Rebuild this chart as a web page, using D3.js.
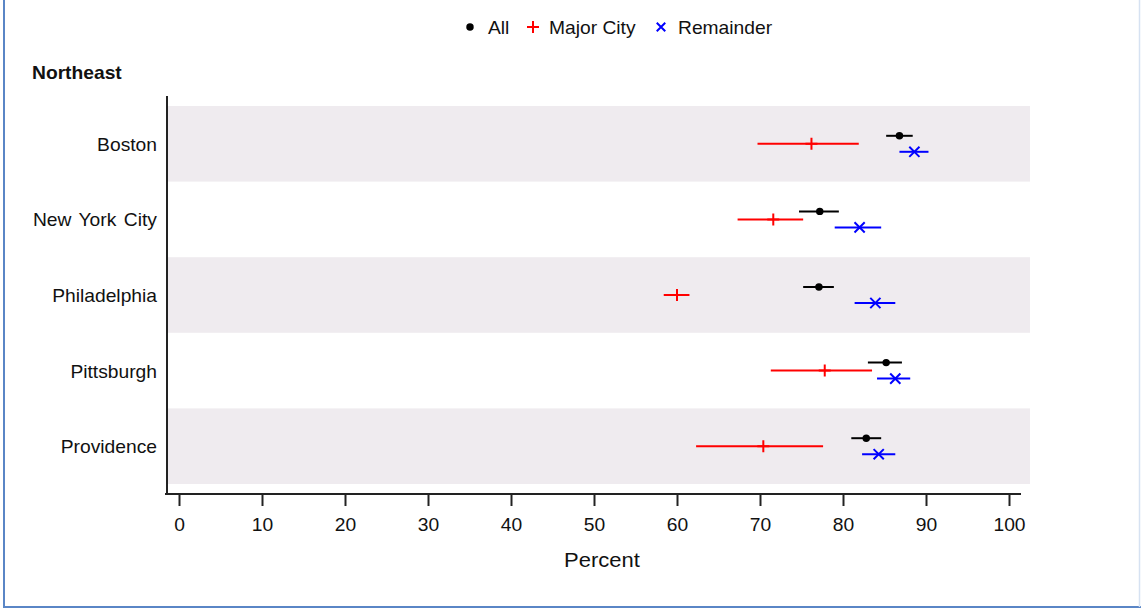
<!DOCTYPE html>
<html>
<head>
<meta charset="utf-8">
<script src="https://cdn.jsdelivr.net/npm/d3@7"></script>
<style>
  html, body { margin: 0; padding: 0; background: #fff; }
  svg { display: block; }
  text { font-family: "Liberation Sans", Arial, sans-serif; fill: #111; }
</style>
</head>
<body>
<svg id="chart" width="1141" height="609"></svg>
<script>
// Region heading and city rows
const region = "Northeast";
const cities = ["Boston", "New York City", "Philadelphia", "Pittsburgh", "Providence"];

// Estimates (percent) with lower / upper confidence bounds
const allEst   = [86.8, 77.2, 77.1, 85.2, 82.8];
const allLo    = [85.2, 74.7, 75.2, 83.0, 81.0];
const allHi    = [88.4, 79.5, 78.9, 87.1, 84.6];

const majorEst = [76.2, 71.6, 60.0, 77.8, 70.4];
const majorLo  = [69.7, 67.3, 58.4, 71.3, 62.3];
const majorHi  = [81.9, 75.2, 61.5, 83.5, 77.6];

const remEst   = [88.6, 82.0, 83.9, 86.3, 84.3];
const remLo    = [86.8, 79.0, 81.4, 84.1, 82.3];
const remHi    = [90.3, 84.6, 86.3, 88.1, 86.3];

const xTicks = [0, 10, 20, 30, 40, 50, 60, 70, 80, 90, 100];
const seriesNames = ["All", "Major City", "Remainder"];

const series = [
  { name: seriesNames[0], est: allEst,   lo: allLo,   hi: allHi,   color: "#000000", shape: "dot",   dy: -8 },
  { name: seriesNames[1], est: majorEst, lo: majorLo, hi: majorHi, color: "#ff0000", shape: "plus",  dy: 0 },
  { name: seriesNames[2], est: remEst,   lo: remLo,   hi: remHi,   color: "#0000ff", shape: "cross", dy: 8 }
];

const svg = d3.select("#chart");
const STRETCH = 1.1;

// text helper: slightly wide glyphs
function label(g, x, y, str, opts = {}) {
  const t = g.append("text")
    .attr("transform", `translate(${x},${y}) scale(${STRETCH},1)`)
    .attr("text-anchor", opts.anchor || "start")
    .style("font-size", (opts.size || 18) + "px")
    .text(str);
  if (opts.bold) t.style("font-weight", "bold");
  if (opts.ws) t.style("word-spacing", opts.ws + "px");
  return t;
}

// outer frame
svg.append("line").attr("x1", 4).attr("x2", 4).attr("y1", 0).attr("y2", 607)
  .attr("stroke", "#5a86c6").attr("stroke-width", 2);
svg.append("line").attr("x1", 3).attr("x2", 1141).attr("y1", 607).attr("y2", 607)
  .attr("stroke", "#5a86c6").attr("stroke-width", 2);
svg.append("line").attr("x1", 1139.5).attr("x2", 1139.5).attr("y1", 0).attr("y2", 607)
  .attr("stroke", "#d6e2f2").attr("stroke-width", 1.5);

const x = d3.scaleLinear().domain([0, 100]).range([179, 1009]);
const y = d3.scaleBand().domain(cities).range([106, 484]).paddingInner(0);

const plotLeft = 168, plotRight = 1030;

// alternating row bands
svg.append("g").selectAll("rect")
  .data(cities.filter((d, i) => i % 2 === 0))
  .join("rect")
  .attr("x", plotLeft)
  .attr("y", d => y(d))
  .attr("width", plotRight - plotLeft)
  .attr("height", y.bandwidth())
  .attr("fill", "#efebef");

// axes
const axisY = 494;
svg.append("line").attr("x1", 167).attr("x2", 167).attr("y1", 96).attr("y2", axisY + 1)
  .attr("stroke", "#222").attr("stroke-width", 2);
svg.append("line").attr("x1", 165).attr("x2", 1021).attr("y1", axisY).attr("y2", axisY)
  .attr("stroke", "#222").attr("stroke-width", 2);

const xAxis = svg.append("g")
  .attr("transform", `translate(0,${axisY})`)
  .call(d3.axisBottom(x).tickValues(xTicks).tickSize(12).tickSizeOuter(0).tickFormat(d3.format("d")));
xAxis.select(".domain").remove();
xAxis.selectAll(".tick line").attr("stroke", "#222").attr("stroke-width", 2);
xAxis.selectAll(".tick text").remove();
xAxis.selectAll(".tick").each(function (d) {
  label(d3.select(this), 0, 37, String(d), { anchor: "middle", size: 17.5 });
});

label(svg, 602, 567, "Percent", { anchor: "middle", size: 20 });

// category labels and heading
cities.forEach(c => {
  label(svg, 157, y(c) + y.bandwidth() / 2 + 7, c, { anchor: "end", size: 17.5, ws: 2 });
});
label(svg, 32, 79, region, { bold: true, size: 17.5 });

// marker drawing
function marker(g, shape, cx, cy, color, s) {
  if (shape === "dot") {
    g.append("circle").attr("cx", cx).attr("cy", cy).attr("r", s * 0.62).attr("fill", color);
  } else if (shape === "plus") {
    g.append("path")
      .attr("d", `M${cx - s},${cy}H${cx + s}M${cx},${cy - s}V${cy + s}`)
      .attr("stroke", color).attr("stroke-width", 2).attr("fill", "none");
  } else {
    const k = s * 0.85;
    g.append("path")
      .attr("d", `M${cx - k},${cy - k}L${cx + k},${cy + k}M${cx - k},${cy + k}L${cx + k},${cy - k}`)
      .attr("stroke", color).attr("stroke-width", 2).attr("fill", "none");
  }
}

// intervals and estimates
const marks = svg.append("g");
series.forEach(s => {
  cities.forEach((c, i) => {
    const cy = y(c) + y.bandwidth() / 2 + s.dy;
    marks.append("line")
      .attr("x1", x(s.lo[i])).attr("x2", x(s.hi[i]))
      .attr("y1", cy).attr("y2", cy)
      .attr("stroke", s.color).attr("stroke-width", 2);
    marker(marks, s.shape, x(s.est[i]), cy, s.color, 6);
  });
});

// legend
const legendItems = [
  { s: series[0], mx: 470, tx: 488 },
  { s: series[1], mx: 533, tx: 549 },
  { s: series[2], mx: 661, tx: 678 }
];
const lg = svg.append("g");
legendItems.forEach(it => {
  marker(lg, it.s.shape, it.mx, 27, it.s.color, it.s.shape === "cross" ? 5 : 6);
  label(lg, it.tx, 34, it.s.name, { size: 17.5 });
});
</script>
</body>
</html>
